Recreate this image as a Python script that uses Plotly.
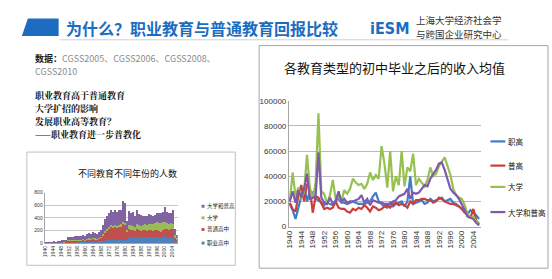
import plotly.graph_objects as go

W, H = 552, 279

years = list(range(1940, 2007))

# 各教育类型的初中毕业之后的收入均值
income_zhigao = [18000, 13000, 6000, 16000, 24000, 32000, 20000, 28000, 27000, 22000,
                 21000, 19000, 17000, 19000, 18000, 17000, 21000, 22000, 19000, 19000,
                 18000, 19000, 20000, 19000, 18000, 18000, 18000, 19000, 20000, 24000,
                 27000, 20000, 18000, 16000, 15000, 19000, 16000, 18000, 19000, 20000,
                 16000, 20000, 40000, 18000, 19000, 20000, 21000, 18000, 19000, 22000,
                 20000, 21000, 22000, 23000, 20000, 21000, 22000, 19000, 18000, 16000,
                 14000, 11000, 10000, 13000, 11000, 9000, 6000]
income_pugao = [19000, 14000, 12000, 25000, 33000, 20000, 34000, 31000, 11000, 24000,
                23000, 18000, 14000, 15000, 14000, 15000, 20000, 15000, 14000, 14000,
                12000, 11000, 14000, 13000, 15000, 14000, 17000, 15000, 12000, 16000,
                15000, 13000, 14000, 16000, 17000, 15000, 18000, 19000, 17000, 18000,
                17000, 15000, 20000, 18000, 21000, 21000, 22000, 22000, 21000, 21000,
                19000, 20000, 23000, 22000, 20000, 19000, 18000, 18000, 17000, 16000,
                14000, 12000, 8000, 7000, 14000, 5000, 2000]
income_daxue = [20000, 43000, 24000, 31000, 22000, 28000, 57000, 30000, 22000, 35000,
                90000, 28000, 26000, 18000, 25000, 37000, 22000, 24000, 20000, 29000,
                26000, 30000, 38000, 35000, 33000, 34000, 30000, 34000, 43000, 37000,
                41000, 38000, 64000, 50000, 31000, 60000, 28000, 40000, 33000, 60000,
                32000, 47000, 44000, 58000, 33000, 38000, 35000, 32000, 37000, 47000,
                40000, 42000, 48000, 52000, 55000, 48000, 41000, 30000, 25000, 23000,
                22000, 17000, 10000, 7000, 8000, 4000, 3000]
income_daxue_pugao = [20000, 28000, 19000, 29000, 23000, 30000, 42000, 22000, 23000, 24000,
                      59000, 23000, 19000, 18000, 23000, 18000, 20000, 28000, 20000, 22000,
                      19000, 20000, 20000, 21000, 22000, 25000, 19000, 22000, 17000, 21000,
                      20000, 19000, 19000, 18000, 18000, 18000, 20000, 21000, 24000, 25000,
                      26000, 30000, 22000, 27000, 26000, 27000, 30000, 33000, 32000, 38000,
                      42000, 45000, 50000, 51000, 45000, 38000, 30000, 27000, 25000, 22000,
                      18000, 13000, 8000, 7000, 6000, 3000, 1000]

# 不同教育不同年份的人数
count_zhiye = [2, 2, 3, 3, 4, 4, 5, 6, 5, 7,
               8, 12, 14, 15, 14, 16, 18, 15, 17, 18,
               16, 20, 22, 20, 24, 22, 20, 25, 28, 35,
               40, 45, 45, 50, 48, 50, 45, 52, 55, 60,
               55, 50, 80, 85, 90, 80, 95, 90, 85, 90,
               95, 90, 100, 95, 90, 95, 100, 90, 85, 95,
               110, 100, 90, 95, 85, 40, 25]
count_putong = [3, 4, 4, 5, 6, 6, 8, 10, 12, 12,
                14, 25, 28, 30, 28, 30, 32, 30, 33, 35,
                32, 40, 45, 40, 48, 45, 42, 50, 60, 90,
                130, 160, 190, 210, 200, 215, 200, 210, 220, 250,
                240, 130, 140, 130, 120, 110, 130, 120, 110, 115,
                110, 100, 110, 105, 100, 105, 110, 100, 95, 110,
                110, 120, 125, 130, 140, 50, 35]
count_daxue = [0, 0, 1, 1, 1, 1, 2, 2, 2, 3,
               3, 4, 5, 5, 4, 5, 5, 5, 6, 6,
               5, 8, 8, 7, 9, 8, 8, 10, 12, 15,
               18, 20, 20, 22, 20, 22, 20, 25, 25, 30,
               30, 25, 60, 70, 65, 60, 70, 70, 75, 80,
               90, 95, 100, 110, 115, 120, 125, 130, 140, 130,
               120, 100, 95, 90, 85, 30, 20]
count_daxue_pugao = [8, 6, 8, 10, 12, 10, 18, 22, 26, 25,
                     30, 50, 55, 52, 50, 55, 60, 55, 60, 62,
                     58, 75, 85, 75, 90, 85, 80, 95, 110, 150,
                     190, 210, 230, 240, 230, 245, 225, 240, 230, 330,
                     315, 145, 230, 200, 215, 180, 235, 180, 170, 150,
                     140, 140, 150, 130, 125, 130, 145, 150, 150, 155,
                     230, 170, 160, 165, 210, 100, 50]

line_ticks = [1940, 1944, 1948, 1952, 1956, 1960, 1964, 1968, 1972, 1976,
              1980, 1984, 1988, 1992, 1996, 2000, 2004]
line_y_ticks = [0, 20000, 40000, 60000, 80000, 100000]
bar_y_ticks = [0, 200, 400, 600, 800]

line_names = ["职高", "普高", "大学", "大学和普高"]
line_series = [income_zhigao, income_pugao, income_daxue, income_daxue_pugao]
line_colors = ["#3F7DC8", "#C8403C", "#96C050", "#7E5AAE"]

bar_names = ["职业高中", "普通高中", "大学", "大学和普高"]
bar_series = [count_zhiye, count_putong, count_daxue, count_daxue_pugao]
bar_colors = ["#4F81BD", "#C0504D", "#9BBB59", "#8064A2"]

CJK = "Noto Sans CJK SC"


def px(x):
    return x / W


def py(y):
    return 1 - y / H


fig = go.Figure()

for name, vals, col in zip(line_names, line_series, line_colors):
    fig.add_trace(go.Scatter(x=years, y=vals, mode="lines", name=name,
                             line=dict(color=col, width=2.2),
                             xaxis="x", yaxis="y", showlegend=False))

for name, vals, col in zip(bar_names, bar_series, bar_colors):
    fig.add_trace(go.Bar(x=years, y=vals, name=name, marker=dict(color=col, line=dict(width=0)),
                         xaxis="x2", yaxis="y2", showlegend=False))

shapes = []
annotations = []

# title bar
shapes.append(dict(type="path", xref="paper", yref="paper",
                   path=f"M {px(24)},{py(15)} L {px(55)},{py(15)} L {px(55)},{py(33)} L {px(18)},{py(33)} Z",
                   fillcolor="#1C6DBF", line=dict(width=0)))
shapes.append(dict(type="line", xref="paper", yref="paper",
                   x0=px(56), x1=px(508), y0=py(37), y1=py(37),
                   line=dict(color="#D0D0D0", width=1)))
annotations.append(dict(x=px(60), y=py(25), xref="paper", yref="paper", xanchor="left", yanchor="middle",
                        text="<b>为什么？职业教育与普通教育回报比较</b>", showarrow=False,
                        font=dict(family=CJK, size=16, color="#1C6DBF")))
annotations.append(dict(x=px(367), y=py(25), xref="paper", yref="paper", xanchor="left", yanchor="middle",
                        text="<b>iESM</b>", showarrow=False,
                        font=dict(family="DejaVu Sans Condensed, DejaVu Sans", size=16, color="#1C6DBF")))
annotations.append(dict(x=px(413), y=py(16.5), xref="paper", yref="paper", xanchor="left", yanchor="middle",
                        text="上海大学经济社会学", showarrow=False,
                        font=dict(family=CJK, size=9.5, color="#333333")))
annotations.append(dict(x=px(413), y=py(31), xref="paper", yref="paper", xanchor="left", yanchor="middle",
                        text="与跨国企业研究中心", showarrow=False,
                        font=dict(family=CJK, size=9.5, color="#333333")))

# left text block
annotations.append(dict(x=px(29), y=py(56), xref="paper", yref="paper", xanchor="left", yanchor="middle",
                        text="<b>数据：</b><span style='color:#8C8C8C'>CGSS2005、CGSS2006、CGSS2008、</span>",
                        showarrow=False, font=dict(family=CJK, size=9, color="#222222")))
annotations.append(dict(x=px(29), y=py(70), xref="paper", yref="paper", xanchor="left", yanchor="middle",
                        text="CGSS2010", showarrow=False,
                        font=dict(family=CJK, size=9, color="#8C8C8C")))
for i, t in enumerate(["职业教育高于普通教育", "大学扩招的影响", "发展职业高等教育？", "——职业教育进一步普教化"]):
    annotations.append(dict(x=px(29), y=py(94.5 + 13.5 * i), xref="paper", yref="paper", xanchor="left",
                            yanchor="middle", text="<b>" + t + "</b>", showarrow=False,
                            font=dict(family="Noto Serif CJK SC, " + CJK, size=9, color="#111111")))

# boxes
shapes.append(dict(type="rect", xref="paper", yref="paper", x0=px(257), x1=px(548), y0=py(43), y1=py(273),
                   line=dict(color="#A6A6A6", width=1), fillcolor="rgba(0,0,0,0)"))
shapes.append(dict(type="rect", xref="paper", yref="paper", x0=px(23), x1=px(233), y0=py(153), y1=py(270),
                   line=dict(color="#C0C0C0", width=1), fillcolor="rgba(0,0,0,0)"))

# chart titles
annotations.append(dict(x=px(393), y=py(66), xref="paper", yref="paper", xanchor="center", yanchor="middle",
                        text="各教育类型的初中毕业之后的收入均值", showarrow=False,
                        font=dict(family=CJK, size=13, color="#111111")))
annotations.append(dict(x=px(124), y=py(175), xref="paper", yref="paper", xanchor="center", yanchor="middle",
                        text="不同教育不同年份的人数", showarrow=False,
                        font=dict(family=CJK, size=9, color="#111111")))

# line legend
for i, (name, col) in enumerate(zip(line_names, line_colors)):
    yy = [142, 167, 189, 215][i]
    shapes.append(dict(type="line", xref="paper", yref="paper", x0=px(490), x1=px(505), y0=py(yy), y1=py(yy),
                       line=dict(color=col, width=2.2)))
    annotations.append(dict(x=px(506), y=py(yy), xref="paper", yref="paper", xanchor="left", yanchor="middle",
                            text=name, showarrow=False, font=dict(family=CJK, size=7.5, color="#111111")))

# bar legend
for i, (name, col) in enumerate(zip(bar_names, bar_colors)):
    yy = [247, 233, 221, 209][i]
    shapes.append(dict(type="rect", xref="paper", yref="paper", x0=px(199), x1=px(202), y0=py(yy - 1.5),
                       y1=py(yy + 1.5), fillcolor=col, line=dict(width=0)))
    annotations.append(dict(x=px(202.5), y=py(yy), xref="paper", yref="paper", xanchor="left", yanchor="middle",
                            text=name, showarrow=False, font=dict(family=CJK, size=5.5, color="#222222")))

tickfont_line = dict(family="Liberation Sans Narrow, Liberation Sans, Arial", size=8, color="#333333")
tickfont_bar = dict(family="Liberation Sans Narrow, Liberation Sans, Arial", size=5, color="#333333")

fig.update_layout(
    width=W, height=H, margin=dict(l=0, r=0, t=0, b=0),
    paper_bgcolor="white", plot_bgcolor="white",
    barmode="stack", bargap=0.2,
    shapes=shapes, annotations=annotations,
    xaxis=dict(domain=[px(287), px(480)], anchor="y", range=[1939.7, 2006.5],
               tickmode="array", tickvals=line_ticks, ticktext=[str(t) for t in line_ticks],
               tickangle=-90, tickfont=tickfont_line, showgrid=False, zeroline=False,
               showline=True, linecolor="#A6A6A6", linewidth=1, ticks="", ticklen=0),
    yaxis=dict(domain=[py(230), py(100)], anchor="x", range=[0, 100000],
               tickmode="array", tickvals=line_y_ticks, ticktext=[str(t) for t in line_y_ticks],
               tickfont=tickfont_line, showgrid=True, gridcolor="#B8B8B8", gridwidth=1,
               zeroline=False, showline=True, linecolor="#A6A6A6", linewidth=1, ticks="", ticklen=0),
    xaxis2=dict(domain=[px(41), px(175)], anchor="y2", range=[1939.5, 2006.5],
                tickmode="array", tickvals=line_ticks, ticktext=[str(t) for t in line_ticks],
                tickangle=-90, tickfont=tickfont_bar, showgrid=False, zeroline=False,
                showline=True, linecolor="#A6A6A6", linewidth=1, ticks=""),
    yaxis2=dict(domain=[py(247), py(195)], anchor="x2", range=[0, 800],
                tickmode="array", tickvals=bar_y_ticks, ticktext=[str(t) for t in bar_y_ticks],
                tickfont=tickfont_bar, showgrid=True, gridcolor="#C8C8C8", gridwidth=1,
                zeroline=False, showline=True, linecolor="#A6A6A6", linewidth=1, ticks=""),
)

fig.write_html("out.html")
